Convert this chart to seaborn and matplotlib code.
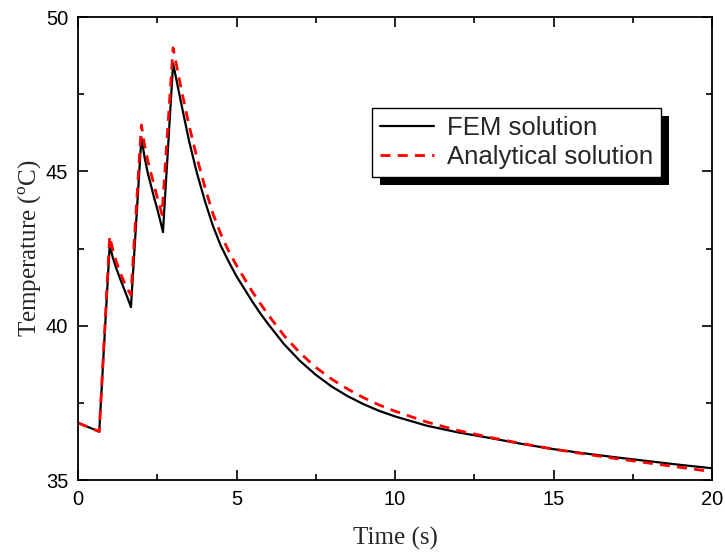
import numpy as np
import pandas as pd
import matplotlib
matplotlib.use("Agg")
import matplotlib.pyplot as plt
from matplotlib.patches import Rectangle
from matplotlib.ticker import MultipleLocator
import seaborn as sns

# ---- data ----
t_fem = [0, 0.67, 1.0, 1.1, 1.2, 1.3, 1.4, 1.5, 1.6, 1.67,
         2.0, 2.1, 2.2, 2.3, 2.4, 2.5, 2.6, 2.68,
         3.0, 3.25, 3.5, 3.75, 4.0, 4.25, 4.5, 4.75, 5.0, 5.5, 5.75, 6.0, 6.5,
         7.0, 7.5, 8.0, 8.5, 9.0, 9.5, 10.0, 11.0, 12.0, 12.5, 13.0, 14.0,
         15.0, 16.0, 17.0, 17.5, 18.0, 19.0, 20.0]
T_fem = [36.85, 36.57, 42.6, 42.2, 41.88, 41.6, 41.33, 41.07, 40.8, 40.6,
         46.1, 45.45, 44.95, 44.55, 44.15, 43.78, 43.38, 43.03,
         48.5, 47.23, 46.0, 44.95, 44.05, 43.25, 42.6, 42.08, 41.6, 40.78, 40.4, 40.05, 39.4,
         38.86, 38.41, 38.03, 37.72, 37.46, 37.24, 37.06, 36.76, 36.54, 36.45, 36.36, 36.17,
         36.0, 35.86, 35.73, 35.67, 35.61, 35.49, 35.38]

t_ana = [0, 0.67, 1.0, 1.1, 1.2, 1.3, 1.4, 1.5, 1.6, 1.67,
         2.0, 2.1, 2.2, 2.3, 2.4, 2.5, 2.6, 2.65,
         3.0, 3.25, 3.5, 3.75, 4.0, 4.25, 4.5, 4.75, 5.0, 5.5, 5.75, 6.0, 6.5,
         7.0, 7.5, 8.0, 8.5, 9.0, 9.5, 10.0, 11.0, 12.0, 12.5, 13.0, 14.0,
         15.0, 16.0, 17.0, 17.5, 18.0, 19.0, 20.0]
T_ana = [36.85, 36.57, 42.9, 42.45, 42.1, 41.8, 41.55, 41.3, 41.12, 41.0,
         46.5, 45.85, 45.35, 44.95, 44.55, 44.15, 43.8, 43.6,
         49.0, 47.7, 46.5, 45.45, 44.5, 43.65, 42.98, 42.42, 41.95, 41.1, 40.72, 40.35, 39.68,
         39.12, 38.65, 38.27, 37.95, 37.67, 37.43, 37.23, 36.88, 36.6, 36.49, 36.38, 36.18,
         36.0, 35.84, 35.69, 35.62, 35.55, 35.41, 35.27]

labels = ["FEM solution", "Analytical solution"]
x_ticks = [0, 5, 10, 15, 20]
y_ticks = [35, 40, 45, 50]

df_fem = pd.DataFrame({"t": t_fem, "T": T_fem})
df_ana = pd.DataFrame({"t": t_ana, "T": T_ana})

sns.set_style("ticks")
plt.rcParams["font.family"] = ["Liberation Sans", "DejaVu Sans"]
plt.rcParams["mathtext.fontset"] = "custom"
plt.rcParams["mathtext.rm"] = "Liberation Serif"

fig = plt.figure(figsize=(7.25, 5.53), dpi=100)
ax = fig.add_axes([78 / 725, 1 - 480 / 553, 634 / 725, 463 / 553])

sns.lineplot(data=df_fem, x="t", y="T", ax=ax, color="black", lw=1.6,
             label=labels[0], sort=False, estimator=None)
sns.lineplot(data=df_ana, x="t", y="T", ax=ax, color="#ff0000", lw=2.0,
             linestyle=(0, (3.6, 2.6)), label=labels[1], sort=False, estimator=None)

ax.set_xlim(0, 20)
ax.set_ylim(35, 50)
ax.set_xticks(x_ticks)
ax.set_yticks(y_ticks)
ax.xaxis.set_minor_locator(MultipleLocator(2.5))
ax.yaxis.set_minor_locator(MultipleLocator(2.5))
ax.tick_params(which="both", direction="in", top=True, right=True,
               width=1.2, colors="black")
ax.tick_params(which="major", length=7, labelsize=14.5, pad=7)
ax.tick_params(which="minor", length=4)
for s in ax.spines.values():
    s.set_visible(True)
    s.set_linewidth(1.3)
    s.set_color("black")

ax.set_xlabel("Time (s)", family="Liberation Serif", fontsize=18, labelpad=13)
ax.set_ylabel(r"Temperature ($^{\mathrm{o}}$C)", family="Liberation Serif",
              fontsize=18, labelpad=1.5)

leg = ax.legend(loc="upper left", bbox_to_anchor=(0.464, 0.803), borderaxespad=0,
                fontsize=18.5, frameon=True, fancybox=False, edgecolor="black",
                framealpha=1, handlelength=2.1, handletextpad=0.5,
                labelspacing=0.2, borderpad=0.3)
leg.get_frame().set_linewidth(1.0)
leg.set_zorder(5)

fig.canvas.draw()
bb = leg.get_window_extent()
shadow = Rectangle((bb.x0 + 8, bb.y0 - 8), bb.width, bb.height, transform=None,
                   facecolor="black", edgecolor="none", zorder=4.9, clip_on=False)
ax.add_patch(shadow)

fig.savefig("out.png", dpi=100)
